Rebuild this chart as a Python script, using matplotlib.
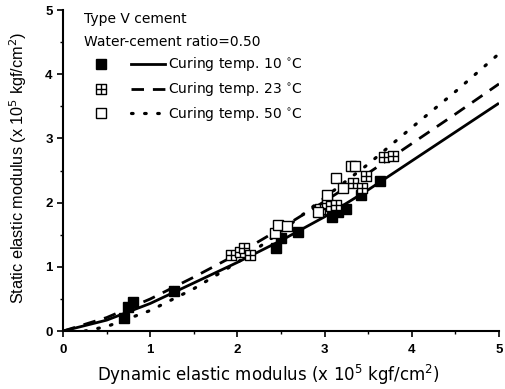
import matplotlib.pyplot as plt
from matplotlib.path import Path
from matplotlib.lines import Line2D
from matplotlib.legend_handler import HandlerTuple

plt.rcParams['font.family'] = ['Liberation Sans', 'DejaVu Sans']

# measured points (dynamic, static), x 10^5 kgf/cm^2
t10_x = [0.70, 0.74, 0.80, 1.27, 2.44, 2.50, 2.70, 3.08, 3.15, 3.25, 3.42, 3.64]
t10_y = [0.20, 0.38, 0.45, 0.63, 1.30, 1.45, 1.55, 1.78, 1.85, 1.90, 2.12, 2.33]

t23_x = [1.93, 2.03, 2.07, 2.14, 2.95, 3.03, 3.07, 3.13, 3.32, 3.43, 3.47, 3.68, 3.78]
t23_y = [1.18, 1.23, 1.29, 1.18, 1.90, 2.00, 1.95, 1.96, 2.31, 2.23, 2.42, 2.71, 2.72]

t50_x = [2.43, 2.47, 2.57, 2.92, 3.03, 3.13, 3.21, 3.30, 3.35]
t50_y = [1.53, 1.65, 1.64, 1.85, 2.12, 2.38, 2.23, 2.57, 2.57]

# regression curves
curve_x = [0.0, 0.5, 1.0, 1.5, 2.0, 2.5, 3.0, 3.5, 4.0, 4.5, 5.0]
fit10_y = [0.0, 0.17, 0.43, 0.75, 1.07, 1.41, 1.78, 2.20, 2.65, 3.10, 3.55]
fit23_y = [0.0, 0.21, 0.50, 0.84, 1.20, 1.60, 2.02, 2.46, 2.92, 3.38, 3.85]
fit50_x = [0.25, 0.5, 1.0, 1.5, 2.0, 2.5, 3.0, 3.5, 4.0, 4.5, 5.0]
fit50_y = [0.0, 0.07, 0.32, 0.66, 1.07, 1.55, 2.08, 2.60, 3.17, 3.73, 4.32]

# square with a cross inside
boxplus = Path(
    [(-1, -1), (1, -1), (1, 1), (-1, 1), (-1, -1),
     (-1, 0), (1, 0), (0, -1), (0, 1)],
    [Path.MOVETO, Path.LINETO, Path.LINETO, Path.LINETO, Path.CLOSEPOLY,
     Path.MOVETO, Path.LINETO, Path.MOVETO, Path.LINETO])

fig = plt.figure(figsize=(5.05, 3.89), dpi=100)
ax = fig.add_axes([0.125, 0.149, 0.863, 0.825])

ms = 6.5
dots = (0.5, 3.6)
ax.plot(curve_x, fit10_y, color='black', lw=2, solid_capstyle='butt')
ax.plot(curve_x, fit23_y, color='black', lw=2, dashes=(4.5, 3.2))
ax.plot(fit50_x, fit50_y, color='black', lw=2.3, dashes=dots,
        dash_capstyle='round')

ax.plot(t10_x, t10_y, ls='none', marker='s', ms=ms, mfc='black', mec='black')
ax.plot(t23_x, t23_y, ls='none', marker=boxplus, ms=ms, mfc='white',
        mec='black', mew=1)
ax.plot(t50_x, t50_y, ls='none', marker='s', ms=ms, mfc='white',
        mec='black', mew=1)

ax.set_xlim(0, 5)
ax.set_ylim(0, 5)
ax.set_xticks([0, 1, 2, 3, 4, 5])
ax.set_yticks([0, 1, 2, 3, 4, 5])
ax.set_xticks([0.5, 1.5, 2.5, 3.5, 4.5], minor=True)
ax.set_yticks([0.5, 1.5, 2.5, 3.5, 4.5], minor=True)
ax.tick_params(which='major', direction='out', length=4, width=1.2,
               labelsize=9.5)
ax.tick_params(axis='x', which='major', pad=5)
ax.tick_params(which='minor', direction='out', length=2.5, width=1)
for lab in ax.get_xticklabels() + ax.get_yticklabels():
    lab.set_fontweight('bold')
ax.spines['top'].set_visible(False)
ax.spines['right'].set_visible(False)
ax.spines['left'].set_linewidth(1.5)
ax.spines['bottom'].set_linewidth(1.5)

# the scan is a little wider than tall, so horizontal text uses a wider face
ax.set_xlabel('Dynamic elastic modulus (x 10$^5$ kgf/cm$^2$)', fontsize=12,
              family='DejaVu Sans', va='center')
ax.set_ylabel('Static elastic modulus (x 10$^5$ kgf/cm$^2$)', fontsize=11.7,
              va='center')
ax.xaxis.set_label_coords(0.47, -0.137)
ax.yaxis.set_label_coords(-0.103, 0.51)

h10 = (Line2D([], [], ls='none', marker='s', ms=ms, mfc='black', mec='black'),
       Line2D([], [], color='black', lw=2))
h23 = (Line2D([], [], ls='none', marker=boxplus, ms=ms, mfc='white', mec='black'),
       Line2D([], [], color='black', lw=2, dashes=(4.5, 3.2)))
h50 = (Line2D([], [], ls='none', marker='s', ms=ms, mfc='white', mec='black'),
       Line2D([], [], color='black', lw=2.3, dashes=dots,
              dash_capstyle='round'))
leg = ax.legend([h10, h23, h50],
                ['Curing temp. 10 $^{\\circ}$C', 'Curing temp. 23 $^{\\circ}$C',
                 'Curing temp. 50 $^{\\circ}$C'],
                handler_map={tuple: HandlerTuple(ndivide=None, pad=0.9)},
                title='Type V cement\nWater-cement ratio=0.50',
                alignment='left', loc='upper left', frameon=False,
                prop={'family': 'DejaVu Sans', 'size': 10},
                handlelength=5.8, handletextpad=0.2, labelspacing=0.5,
                bbox_to_anchor=(0.02, 1.034))
leg.get_title().set_fontfamily('DejaVu Sans')
leg.get_title().set_fontsize(10)
leg.get_title().set_linespacing(1.8)

fig.savefig('out.png', dpi=100)
